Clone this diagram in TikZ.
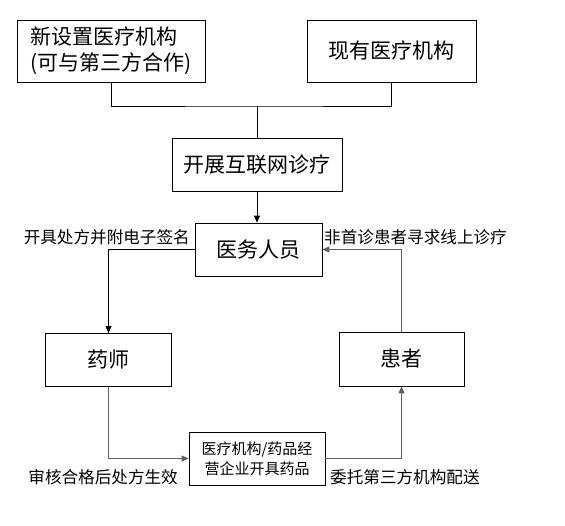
\documentclass[tikz,border=0pt]{standalone}
\usepackage{fontspec}
\setmainfont{Noto Sans CJK SC}
\definecolor{line-grey}{RGB}{95,95,95}
\usetikzlibrary{positioning,arrows.meta}

\begin{document}
\begin{tikzpicture}[x=1pt,y=-1pt,
    box/.style={draw, line width=0.8pt, inner sep=0pt, align=center, font=\fontsize{21}{26}\selectfont},
    tag/.style={inner sep=0pt, font=\fontsize{16.6}{19}\selectfont},
    link/.style={line width=0.8pt},
    greylink/.style={line-grey, line width=1.1pt},
    head/.style={-{Triangle[length=7pt,width=6pt]}}]
    \useasboundingbox (0,0) rectangle (565,525);
    % institutions
    \node[box, minimum width=188, minimum height=62, align=left] (newinst) at (111,51) {新设置医疗机构\\(可与第三方合作)};
    \node[box, minimum width=169, minimum height=62] (oldinst) at (391.5,51) {现有医疗机构};
    \node[box, minimum width=170, minimum height=53] (online) at (257,164.5) {开展互联网诊疗};
    \node[box, minimum width=127, minimum height=53] (staff) at (258.5,249.5) {医务人员};
    \node[box, minimum width=126, minimum height=53] (pharm) at (108.5,360) {药师};
    \node[box, minimum width=125, minimum height=54] (patient) at (401.5,359) {患者};
    \node[box, minimum width=136, minimum height=53, font=\fontsize{15}{20}\selectfont] (supply) at (257,458.5) {医疗机构/药品经\\营企业开具药品};
    % labels
    \node[tag, anchor=east] (sign) at (190,237) {开具处方并附电子签名};
    \node[tag, anchor=west] (revisit) at (324,237) {非首诊患者寻求线上诊疗};
    \node[tag, anchor=east] (valid) at (178,477) {审核合格后处方生效};
    \node[tag, anchor=west] (deliver) at (330,477) {委托第三方机构配送};
    % connectors
    \coordinate (join) at (257,106);
    \draw[link] (newinst.south) |- (join) -| (oldinst.south);
    \draw[link] (join) -- (online.north);
    \draw[link, head] (online.south) -- (online.south |- staff.north);
    \draw[link, head] (staff.west) -| (pharm.north);
    \draw[greylink, head] (patient.north) |- (staff.east);
    \draw[greylink, head] (pharm.south) |- (supply.west);
    \draw[greylink, head] (supply.east) -| (patient.south);
\end{tikzpicture}
\end{document}
